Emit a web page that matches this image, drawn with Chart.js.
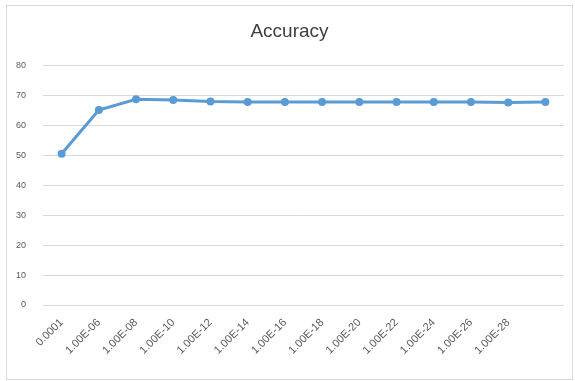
<!DOCTYPE html>
<html>
<head>
<meta charset="utf-8">
<script src="https://cdn.jsdelivr.net/npm/chart.js@4/dist/chart.umd.min.js"></script>
<style>
  html, body { margin: 0; padding: 0; background: #ffffff; }
  #frame { position: absolute; left: 6px; top: 5px; width: 565px; height: 373px; border: 1px solid #d9d9d9; }
  #wrap { position: absolute; left: 0; top: 0; width: 575px; height: 381px; }
</style>
</head>
<body>
<div id="frame"></div>
<div id="wrap"><canvas id="c" width="575" height="381"></canvas></div>
<script>
// Learning-rate settings on the x axis (last run has no category text)
const categories = ['0.0001', '1.00E-06', '1.00E-08', '1.00E-10', '1.00E-12', '1.00E-14',
  '1.00E-16', '1.00E-18', '1.00E-20', '1.00E-22', '1.00E-24', '1.00E-26', '1.00E-28', ''];
// Accuracy (%) for each setting
const accuracy = [50.6, 65.2, 68.8, 68.6, 68.1, 67.9, 67.9, 67.9, 67.9, 67.9, 67.9, 67.9, 67.7, 67.9];
const yTicks = [0, 10, 20, 30, 40, 50, 60, 70, 80];

const grey = '#595959';
new Chart(document.getElementById('c'), {
  type: 'line',
  data: {
    labels: categories,
    datasets: [{
      label: 'Accuracy',
      data: accuracy,
      borderColor: '#5b9bd5',
      backgroundColor: '#5b9bd5',
      borderWidth: 3,
      pointRadius: 2.5,
      pointHoverRadius: 2.5,
      pointBackgroundColor: '#5b9bd5',
      pointBorderColor: '#5b9bd5',
      tension: 0
    }]
  },
  options: {
    responsive: false,
    animation: false,
    layout: { padding: { left: 15, right: 11, top: 0, bottom: 0 } },
    plugins: {
      legend: { display: false },
      tooltip: { enabled: false },
      title: {
        display: true,
        text: 'Accuracy',
        color: '#404040',
        font: { family: 'Liberation Sans', size: 19, weight: 'normal' },
        padding: { top: 20, bottom: 23 }
      }
    },
    scales: {
      x: {
        offset: true,
        grid: { display: false },
        border: { display: false },
        ticks: {
          color: grey,
          font: { family: 'Liberation Sans', size: 11 },
          maxRotation: 45,
          minRotation: 45,
          autoSkip: false,
          padding: 3
        },
        afterFit: (s) => { s.height = 76; }
      },
      y: {
        min: 0,
        max: 80,
        afterBuildTicks: (s) => { s.ticks = yTicks.map(v => ({ value: v })); },
        grid: { color: '#d9d9d9', lineWidth: 1, drawTicks: false },
        border: { display: false },
        ticks: {
          color: grey,
          font: { family: 'Liberation Sans', size: 9 },
          padding: 17
        },
        afterFit: (s) => { s.width = 28; }
      }
    }
  }
});
</script>
</body>
</html>
